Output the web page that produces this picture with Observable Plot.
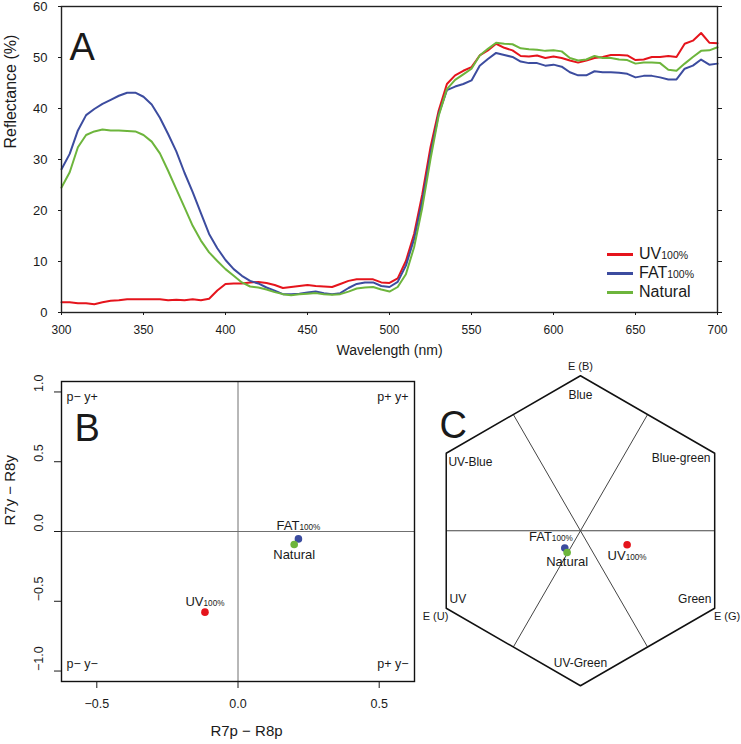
<!DOCTYPE html>
<html><head><meta charset="utf-8">
<script src="https://cdn.jsdelivr.net/npm/d3@7"></script>
<script src="https://cdn.jsdelivr.net/npm/@observablehq/plot@0.6"></script>
<style>
body{margin:0;background:#fff;font-family:"Liberation Sans",Arial,Helvetica,sans-serif;}
#fig{position:relative;width:741px;height:744px;overflow:hidden;background:#fff;}
#fig > svg, #fig > div{position:absolute;}
</style></head><body><div id="fig"></div>
<script>
// ---------- Panel A data: reflectance spectra ----------
const wavelengths = d3.range(300, 701, 5);
const uv100 = [2.0,2.0,1.8,1.8,1.6,2.0,2.3,2.4,2.6,2.6, 2.6,2.6,2.6,2.4,2.5,2.4,2.6,2.4,2.7,4.3,
  5.6,5.7,5.7,5.9,6.0,5.8,5.4,4.8,5.0,5.2, 5.4,5.2,5.1,5.0,5.6,6.2,6.5,6.5,6.5,5.9,
  5.8,6.7,10.1,15.4,23.2,32.4,39.6,44.8,46.5,47.4, 48.1,50.4,51.4,52.7,51.9,51.4,50.3,50.2,50.4,49.9,
  50.2,49.9,49.4,49.0,49.4,49.9,50.1,50.5,50.5,50.4, 49.5,49.6,50.1,50.1,50.3,50.1,52.7,53.3,54.8,52.9,
  52.8];
const fat100 = [28.1,31.1,35.7,38.7,39.9,40.9,41.7,42.5,43.1,43.1, 42.3,40.8,38.2,35.0,31.6,27.4,23.6,19.5,15.4,12.6,
  10.3,8.5,7.2,6.2,5.7,4.9,4.3,3.6,3.6,3.7, 3.9,4.1,3.8,3.6,3.8,4.8,5.6,5.9,5.9,5.2,
  5.0,6.0,9.2,14.4,21.9,31.1,38.9,43.6,44.3,44.8, 45.5,48.4,49.7,50.9,50.5,50.1,49.2,48.9,48.9,48.4,
  48.6,48.2,47.1,46.5,46.5,47.3,47.1,47.1,47.0,46.8, 46.1,46.4,46.4,46.1,45.7,45.7,47.8,48.4,49.6,48.6,
  48.8];
const natural = [24.5,27.5,32.4,34.8,35.5,35.9,35.7,35.7,35.6,35.5, 34.8,33.5,31.2,27.8,24.2,20.6,17.0,14.1,11.8,10.1,
  8.5,7.2,5.9,5.1,4.9,4.5,4.0,3.6,3.4,3.6, 3.7,3.8,3.6,3.5,3.6,4.1,4.7,4.9,5.0,4.5,
  4.1,5.0,7.5,12.8,20.6,30.1,38.6,43.8,45.6,46.7, 47.8,50.4,51.7,52.9,52.7,52.6,51.8,51.6,51.5,51.3,
  51.4,51.2,49.9,49.4,49.6,50.3,49.9,49.9,49.6,49.5, 48.8,49.0,49.0,48.9,47.6,47.4,48.8,50.1,51.3,51.4,
  52.0];
const seriesNames = ["UV100%", "FAT100%", "Natural"];
const seriesColors = ["#e5141c", "#3c4c9f", "#6db53c"];
const xTicksA = [300, 350, 400, 450, 500, 550, 600, 650, 700];
const yTicksA = [0, 10, 20, 30, 40, 50, 60];

// ---------- Panel B data: opponency space ----------
const xTicksB = [-0.5, 0, 0.5];
const yTicksB = [-1, -0.5, 0, 0.5, 1];
const oppX = [-0.117, 0.214, 0.199];   // R7p − R8p  (UV, FAT, Natural)
const oppY = [-0.578, -0.053, -0.093]; // R7y − R8y
const quadrantLabels = ["p\u2212 y+", "p+ y+", "p\u2212 y\u2212", "p+ y\u2212"];

// ---------- Panel C data: colour hexagon ----------
const hexX = [0.301, -0.101, -0.086];
const hexY = [-0.090, -0.112, -0.140];
const sectorNames = ["Blue", "Blue-green", "Green", "UV-Green", "UV", "UV-Blue"];
const vertexNames = ["E (B)", "E (G)", "E (U)"];

// ---------- helpers ----------
const font = "'Liberation Sans', Arial, Helvetica, sans-serif";
const baseStyle = {fontFamily: font, background: "transparent", color: "#1a1a1a", overflow: "visible"};
const fig = d3.select("#fig");
function place(svg, left, top) { fig.append(() => svg).style("left", left + "px").style("top", top + "px"); }
function subscriptify(svg, size) {
  d3.select(svg).selectAll("text").each(function () {
    const m = /^(.+?)(100%)$/.exec(this.textContent);
    if (!m) return;
    const t = d3.select(this);
    t.text(null);
    t.append("tspan").text(m[1]);
    t.append("tspan").attr("font-size", size).text(m[2]);
  });
}

// ---------- Panel A ----------
const spectra = wavelengths.flatMap((w, i) => [
  {wl: w, r: uv100[i], s: seriesNames[0]},
  {wl: w, r: fat100[i], s: seriesNames[1]},
  {wl: w, r: natural[i], s: seriesNames[2]}
]);
const plotA = Plot.plot({
  width: 741, height: 370, marginLeft: 61, marginRight: 24, marginTop: 6, marginBottom: 58,
  style: {...baseStyle, fontSize: "12px"},
  x: {domain: [300, 700], label: null},
  y: {domain: [0, 60], label: null},
  color: {domain: seriesNames, range: seriesColors},
  marks: [
    Plot.line(spectra, {x: "wl", y: "r", z: "s", stroke: "s", strokeWidth: 2}),
    Plot.frame({stroke: "#222", strokeWidth: 1.4}),
    Plot.axisX(xTicksA, {tickSize: 3, tickPadding: 10, fontSize: 12, label: null}),
    Plot.axisY(yTicksA, {tickSize: 3, tickPadding: 11, fontSize: 13, label: null}),
    Plot.axisY(yTicksA, {anchor: "right", tickSize: 4, tickFormat: () => "", label: null}),
    Plot.text(["Wavelength (nm)"], {text: d => d, frameAnchor: "bottom", dy: 42, fontSize: 14}),
    Plot.text(["Reflectance (%)"], {text: d => d, frameAnchor: "left", dx: -51, dy: -11, rotate: -90, fontSize: 16}),
    Plot.text(["A"], {text: d => d, frameAnchor: "top-left", dx: 8, dy: 27, textAnchor: "start", fontSize: 38})
  ]
});
place(plotA, 0, 0);

// legend for A
const legend = fig.append("div").style("left", "607px").style("top", "245.6px")
  .style("font-family", font).style("font-size", "16px").style("color", "#1a1a1a");
seriesNames.forEach((name, i) => {
  const row = legend.append("div").style("display", "flex").style("align-items", "center")
    .style("height", "18.7px").style("line-height", "18.7px");
  row.append("span").style("display", "inline-block").style("width", "26px").style("height", "3px")
    .style("background", seriesColors[i]).style("margin-right", "6px");
  const m = /^(.+?)(100%)$/.exec(name);
  const lab = row.append("span");
  if (m) { lab.append("span").text(m[1]); lab.append("span").style("font-size", "10.5px").text(m[2]); }
  else lab.text(name);
});

// ---------- Panel B ----------
const oppPoints = seriesNames.map((s, i) => ({s, x: oppX[i], y: oppY[i]}));
const fmt1 = d3.format(".1f");
const quadAnchors = [
  {frameAnchor: "top-left", textAnchor: "start", dx: 5, dy: 11},
  {frameAnchor: "top-right", textAnchor: "end", dx: -6, dy: 11},
  {frameAnchor: "bottom-left", textAnchor: "start", dx: 5, dy: -14},
  {frameAnchor: "bottom-right", textAnchor: "end", dx: -6, dy: -14}
];
const labelOffsetsB = [{dy: -10}, {dy: -13}, {dy: 10}];
const plotB = Plot.plot({
  width: 430, height: 374, marginLeft: 61, marginRight: 16, marginTop: 11, marginBottom: 63,
  style: {...baseStyle, fontSize: "12.5px"},
  x: {domain: [-0.625, 0.625], label: null},
  y: {domain: [-1.075, 1.075], label: null},
  color: {domain: seriesNames, range: seriesColors},
  marks: [
    Plot.ruleX([0], {stroke: "#707070", strokeWidth: 1}),
    Plot.ruleY([0], {stroke: "#707070", strokeWidth: 1}),
    Plot.frame({stroke: "#111", strokeWidth: 1.4}),
    Plot.axisX(xTicksB, {tickSize: 7, tickPadding: 11, tickFormat: fmt1, fontSize: 12.5, label: null}),
    Plot.axisY(yTicksB, {tickSize: 7, tickFormat: () => "", label: null}),
    Plot.text(yTicksB, {y: d => d, text: fmt1, frameAnchor: "left", dx: -23, rotate: -90, fontSize: 12.5}),
    Plot.text(["R7p \u2212 R8p"], {text: d => d, frameAnchor: "bottom", dx: 8.5, dy: 54, fontSize: 15}),
    Plot.text(["R7y \u2212 R8y"], {text: d => d, frameAnchor: "left", dx: -51, dy: -6, rotate: -90, fontSize: 15}),
    ...quadrantLabels.map((q, i) => Plot.text([q], {text: d => d, fontSize: 12.5, ...quadAnchors[i]})),
    Plot.text(["B"], {text: d => d, frameAnchor: "top-left", dx: 13, dy: 33, textAnchor: "start", fontSize: 38}),
    Plot.dot(oppPoints, {x: "x", y: "y", fill: "s", r: 3.8}),
    ...oppPoints.map((p, i) => Plot.text([p], {x: "x", y: "y", text: "s", fontSize: 13, ...labelOffsetsB[i]}))
  ]
});
subscriptify(plotB, 8.2);
place(plotB, 0, 370);

// ---------- Panel C ----------
const angles = [90, 30, -30, -90, -150, 150, 90];
const hexOutline = angles.map(a => ({x: Math.cos(a * Math.PI / 180), y: Math.sin(a * Math.PI / 180)}));
const dividers = [0, 60, 120].map(a => {
  const r = Math.cos(Math.PI / 6), t = a * Math.PI / 180;
  return {x1: r * Math.cos(t), y1: r * Math.sin(t), x2: -r * Math.cos(t), y2: -r * Math.sin(t)};
});
// annotation anchors (hexagon units)
const sectorPos = [
  {x: 0, y: 0.873, a: "middle"}, {x: 0.839, y: 0.466, a: "end"}, {x: 0.845, y: -0.443, a: "end"},
  {x: 0, y: -0.854, a: "middle"}, {x: -0.845, y: -0.443, a: "start"}, {x: -0.852, y: 0.443, a: "start"}
];
const vertexPos = [{x: 0, y: 1.06}, {x: 0.946, y: -0.551}, {x: -0.935, y: -0.551}];
const sectors = sectorNames.map((n, i) => ({n, ...sectorPos[i]}));
const vertices = vertexNames.map((n, i) => ({n, ...vertexPos[i]}));
const hexPoints = seriesNames.map((s, i) => ({s, x: hexX[i], y: hexY[i]}));
const labelOffsetsC = [{dy: 11.5}, {dy: -11, dx: 8, textAnchor: "end"}, {dy: 9}];
const plotC = Plot.plot({
  width: 321, height: 374, marginLeft: 0, marginRight: 0, marginTop: 0, marginBottom: 0,
  style: {...baseStyle, fontSize: "12px"},
  x: {domain: [-1.032, 1.039], axis: null},
  y: {domain: [-1.379, 1.034], axis: null},
  color: {domain: seriesNames, range: seriesColors},
  marks: [
    Plot.link(dividers, {x1: "x1", y1: "y1", x2: "x2", y2: "y2", stroke: "#444", strokeWidth: 1}),
    Plot.line(hexOutline, {x: "x", y: "y", stroke: "#111", strokeWidth: 1.5}),
    Plot.text(sectors.filter(d => d.a === "middle"), {x: "x", y: "y", text: "n", fontSize: 12, textAnchor: "middle"}),
    Plot.text(sectors.filter(d => d.a === "start"), {x: "x", y: "y", text: "n", fontSize: 12, textAnchor: "start"}),
    Plot.text(sectors.filter(d => d.a === "end"), {x: "x", y: "y", text: "n", fontSize: 12, textAnchor: "end"}),
    Plot.text(vertices, {x: "x", y: "y", text: "n", fontSize: 11}),
    Plot.text(["C"], {text: d => d, frameAnchor: "top-left", dx: 19, dy: 41, textAnchor: "start", fontSize: 38}),
    Plot.dot(hexPoints, {x: "x", y: "y", fill: "s", r: 3.8}),
    ...hexPoints.map((p, i) => Plot.text([p], {x: "x", y: "y", text: "s", fontSize: 13, ...labelOffsetsC[i]}))
  ]
});
subscriptify(plotC, 8.2);
place(plotC, 420, 370);
</script></body></html>
